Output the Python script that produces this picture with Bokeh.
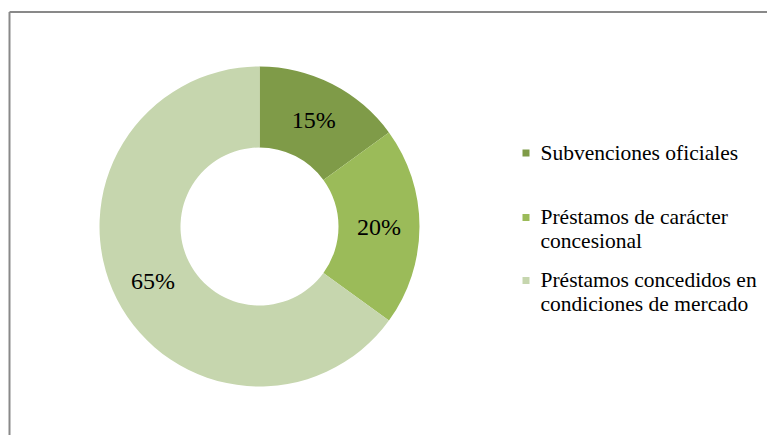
import math
from bokeh.plotting import figure
from bokeh.models import Range1d, ColumnDataSource
from bokeh.core.properties import value
from bokeh.embed import file_html
from bokeh.resources import INLINE

# ---- data ----
categories = ["Subvenciones oficiales",
              "Préstamos de carácter\nconcesional",
              "Préstamos concedidos en\ncondiciones de mercado"]
shares = [15, 20, 65]
slice_colors = ["#7F9B48", "#9BBB59", "#C6D6AE"]

# ---- layout (pixels; data units are 1:1 with screen pixels) ----
W, H = 767, 435
CX, CY = 259, 209
R_IN, R_OUT = 79, 160
FONT = "Times New Roman"

total = sum(shares)
starts, ends, lx, ly, ltxt = [], [], [], [], []
cum = 0.0
for s in shares:
    a0 = math.pi / 2 - 2 * math.pi * cum / total
    a1 = math.pi / 2 - 2 * math.pi * (cum + s) / total
    starts.append(a0)
    ends.append(a1)
    mid = (a0 + a1) / 2
    rm = (R_IN + R_OUT) / 2
    lx.append(CX + rm * math.cos(mid))
    ly.append(CY + rm * math.sin(mid))
    ltxt.append(f"{s}%")
    cum += s

p = figure(width=W, height=H, output_backend="svg", toolbar_location=None,
           x_range=Range1d(0, W), y_range=Range1d(0, H), min_border=0,
           outline_line_color=None)
p.axis.visible = False
p.grid.visible = False
p.background_fill_color = "white"

# chart area border (top and left edges visible)
p.segment(x0=[9, 9], y0=[-10, 423.5], x1=[9, W + 10], y1=[423.5, 423.5],
          line_color="#898989", line_width=2)

src = ColumnDataSource(dict(start=starts, end=ends, color=slice_colors))
p.annular_wedge(x=CX, y=CY, inner_radius=R_IN, outer_radius=R_OUT,
                start_angle="start", end_angle="end", direction="clock",
                fill_color="color", line_color=None, source=src)

p.text(x=lx, y=ly, text=ltxt, text_font=value(FONT), text_font_size="24px",
       text_align="center", text_baseline="middle", text_color="black")

# legend
leg_x_sq = 525.5
leg_x_txt = 540
leg_tops = [295, 230.5, 167.5]
p.rect(x=[leg_x_sq] * 3, y=[t - 12.5 for t in leg_tops], width=7, height=7,
       fill_color=slice_colors, line_color=None)
p.text(x=[leg_x_txt] * 3, y=leg_tops, text=categories, text_font=value(FONT),
       text_font_size="21.5px", text_align="left", text_baseline="top",
       text_line_height=1.01, text_color="black")

open("out.html", "w").write(file_html(p, INLINE))
